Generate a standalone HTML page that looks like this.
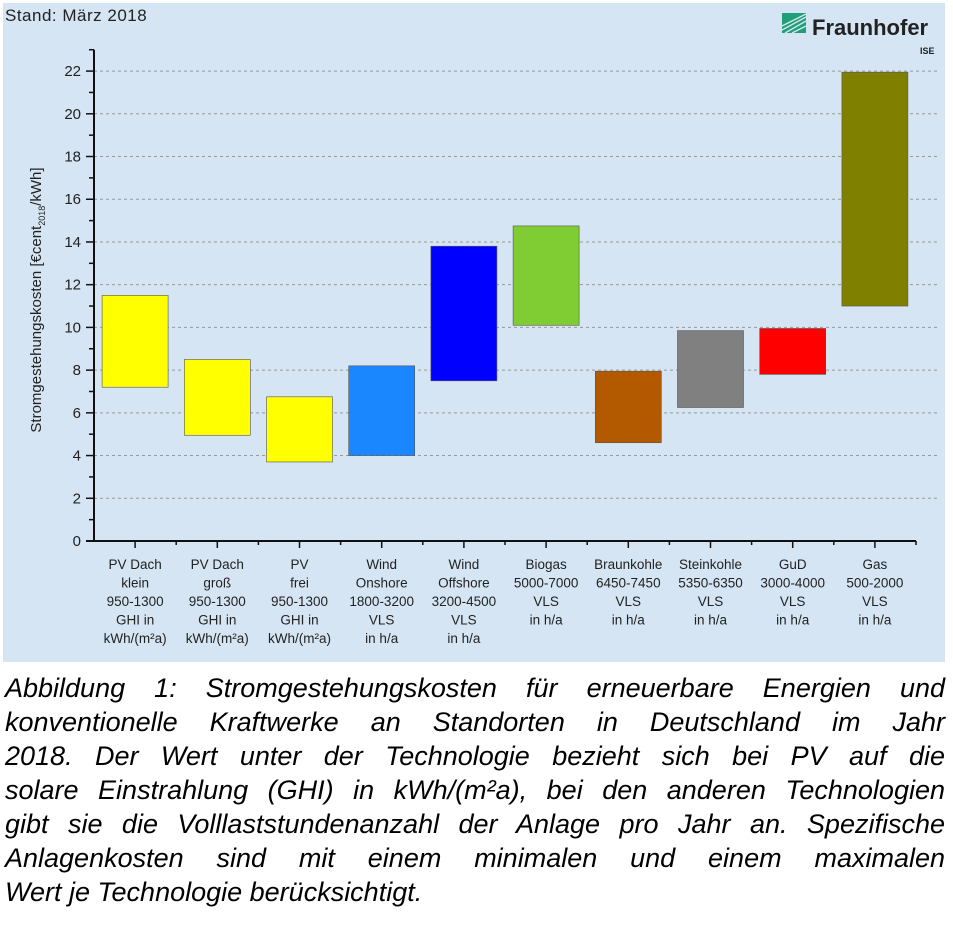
<!DOCTYPE html>
<html><head><meta charset="utf-8">
<style>
body{margin:0;width:953px;height:925px;background:#fff;overflow:hidden;font-family:"Liberation Sans",sans-serif;}
#chart{position:absolute;left:0;top:0;}
#caption{position:absolute;left:5px;top:671px;width:940px;font-style:italic;font-size:27px;line-height:34px;color:#000;margin:0;}
#caption span{display:block;white-space:nowrap;text-align:justify;text-align-last:justify;}
#caption span.last{text-align-last:left;}
</style></head><body>
<svg id="chart" width="953" height="665" xmlns="http://www.w3.org/2000/svg">
<rect x="3" y="3" width="942" height="659" fill="#d5e5f3"/>
<text x="5" y="21" font-size="17" letter-spacing="0.5" fill="#222" font-family="Liberation Sans, sans-serif">Stand: März 2018</text>
<g>
<rect x="782" y="13" width="24" height="20" fill="#1f9f76"/>
<path d="M782 30 L806 17 M782 26 L806 14 M785 33 L806 21 M792 33 L806 26" stroke="#d5e5f3" stroke-width="1.3"/>
<text x="812" y="35" font-size="22" font-weight="bold" fill="#222">Fraunhofer</text>
<text x="920" y="54" font-size="9" font-weight="bold" fill="#222">ISE</text>
</g>
<g id="grid"></g><g id="bars"></g><g id="axes"></g>
<text transform="translate(41,300) rotate(-90)" text-anchor="middle" font-size="15" fill="#222">Stromgestehungskosten [€cent<tspan font-size="9" dy="4">2018</tspan><tspan dy="-4">/kWh]</tspan></text>
</svg>
<p id="caption"><span>Abbildung 1: Stromgestehungskosten für erneuerbare Energien und</span><span>konventionelle Kraftwerke an Standorten in Deutschland im Jahr</span><span>2018. Der Wert unter der Technologie bezieht sich bei PV auf die</span><span>solare Einstrahlung (GHI) in kWh/(m²a), bei den anderen Technologien</span><span>gibt sie die Volllaststundenanzahl der Anlage pro Jahr an. Spezifische</span><span>Anlagenkosten sind mit einem minimalen und einem maximalen</span><span class="last">Wert je Technologie berücksichtigt.</span></p>
<script>
const categories=["PV Dach klein","PV Dach groß","PV frei","Wind Onshore","Wind Offshore","Biogas","Braunkohle","Steinkohle","GuD","Gas"];
const minValues=[7.2,4.95,3.7,4.0,7.5,10.1,4.6,6.25,7.8,11.0];
const maxValues=[11.5,8.5,6.75,8.2,13.8,14.75,7.95,9.85,9.95,21.95];
const colors=["#ffff00","#ffff00","#ffff00","#1a86ff","#0000ff","#80cc33","#b35900","#808080","#ff0000","#808000"];
const labelLines=[["PV Dach","klein","950-1300","GHI in","kWh/(m²a)"],["PV Dach","groß","950-1300","GHI in","kWh/(m²a)"],["PV","frei","950-1300","GHI in","kWh/(m²a)"],["Wind","Onshore","1800-3200","VLS","in h/a"],["Wind","Offshore","3200-4500","VLS","in h/a"],["Biogas","5000-7000","VLS","in h/a"],["Braunkohle","6450-7450","VLS","in h/a"],["Steinkohle","5350-6350","VLS","in h/a"],["GuD","3000-4000","VLS","in h/a"],["Gas","500-2000","VLS","in h/a"]];
const yTicks=[0,2,4,6,8,10,12,14,16,18,20,22];
const NS="http://www.w3.org/2000/svg";
const y0=541,pxPer=21.36,x0=94,step=82.2,bw=66;
const Y=v=>y0-v*pxPer;
const X=i=>x0+step*(i+0.5);
function mk(t,a,p){const e=document.createElementNS(NS,t);for(const k in a)e.setAttribute(k,a[k]);p.appendChild(e);return e;}
const grid=document.getElementById('grid'),bars=document.getElementById('bars'),axes=document.getElementById('axes');
yTicks.forEach(v=>{
 if(v>0){const g=mk('line',{x1:x0,x2:940,y1:Y(v),y2:Y(v),stroke:'#999','stroke-dasharray':'3,3','stroke-width':1},grid);
 
 }
 const t=mk('text',{x:x0-13,y:Y(v)+5,'text-anchor':'end','font-size':15,fill:'#222'},axes);t.textContent=v;
 
 
 mk('line',{x1:x0-8,x2:x0,y1:Y(v),y2:Y(v),stroke:'#111','stroke-width':1.5},axes);
 if(v<22)mk('line',{x1:x0-5,x2:x0,y1:Y(v+1),y2:Y(v+1),stroke:'#111','stroke-width':1.5},axes);
});
mk('line',{x1:x0-5,x2:x0,y1:Y(23),y2:Y(23),stroke:'#111','stroke-width':1.5},axes);
const ya=mk('line',{x1:x0,x2:x0,y1:Y(23),y2:y0,stroke:'#111','stroke-width':2},axes);


const xa=mk('line',{x1:x0-8,x2:x0+step*10,y1:y0,y2:y0,stroke:'#111','stroke-width':2},axes);


categories.forEach((c,i)=>{
 const r=mk('rect',{x:X(i)-bw/2,y:Y(maxValues[i]),width:bw,height:Y(minValues[i])-Y(maxValues[i]),fill:colors[i],stroke:'#555','stroke-width':0.6},bars);
 
 
 mk('line',{x1:X(i),x2:X(i),y1:y0,y2:y0+7,stroke:'#111','stroke-width':1.5},axes);
 mk('line',{x1:x0+step*(i+1),x2:x0+step*(i+1),y1:y0,y2:y0+4,stroke:'#111','stroke-width':1.5},axes);
 const t=mk('text',{'text-anchor':'middle','font-size':13.5,fill:'#222'},axes);
 
 
 labelLines[i].forEach((l,j)=>{const s=mk('tspan',{x:X(i),y:569+j*18.5},t);s.textContent=l;});
});
</script>
</body></html>
